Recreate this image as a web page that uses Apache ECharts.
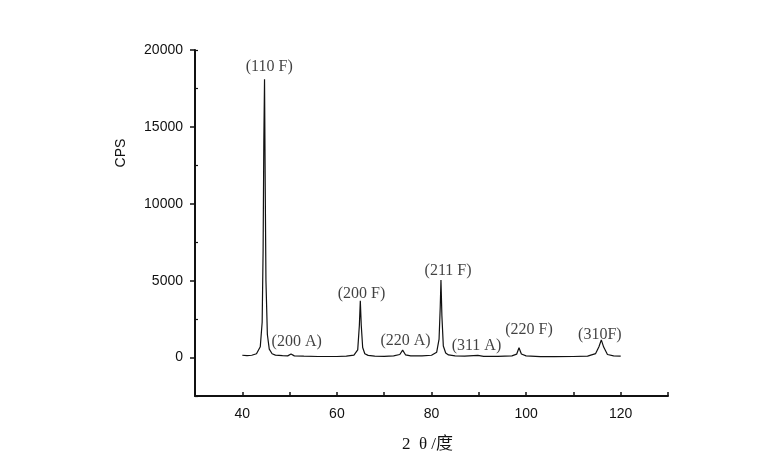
<!DOCTYPE html>
<html>
<head>
<meta charset="utf-8">
<script src="https://cdn.jsdelivr.net/npm/echarts@6/dist/echarts.min.js"></script>
<style>
  html, body { margin: 0; padding: 0; background: #fff; }
  #chart { width: 774px; height: 473px; }
</style>
</head>
<body>
<div id="chart"></div>
<script>
// XRD 衍射谱 2θ / CPS
var twoTheta = [40.0, 41.0, 42.0, 43.0, 43.8, 44.2, 44.4, 44.55, 44.7, 44.85, 45.0, 45.3, 45.7, 46.3, 47.0, 48.5, 49.6, 50.3, 51.0,
  53.0, 56.0, 60.0, 62.0, 63.6, 64.4, 64.75, 64.95, 65.15, 65.45, 65.9, 66.6, 68.0, 70.0, 72.0, 73.3, 73.9, 74.5,
  75.6, 78.0, 80.0, 81.1, 81.6, 81.85, 82.0, 82.2, 82.5, 83.0, 83.6, 85.0, 87.0, 89.8, 91.0, 94.0, 97.0, 98.0,
  98.5, 99.0, 100.0, 103.0, 106.0, 110.0, 113.0, 114.7, 115.4, 115.9, 116.4, 117.2, 118.5, 120.0];
var cps = [150, 120, 150, 250, 700, 2300, 7000, 14000, 18100, 11000, 5000, 1500, 550, 250, 160, 120, 110, 230, 110,
  90, 70, 70, 90, 160, 500, 2100, 3700, 2100, 650, 250, 140, 90, 80, 110, 200, 480, 180,
  110, 110, 150, 350, 1200, 3300, 5050, 2700, 750, 300, 170, 110, 90, 140, 80, 80, 110, 220,
  640, 230, 110, 60, 60, 70, 90, 260, 700, 1150, 680, 200, 110, 90];

// 峰标注
var peakNames = ['(110 F)', '(200 A)', '(200 F)', '(220 A)', '(211 F)', '(311 A)', '(220 F)', '(310F)'];
var peakLabelX = [45.7, 51.5, 65.2, 74.5, 83.5, 89.5, 100.6, 115.6];
var peakLabelY = [18920, 1020, 4170, 1060, 5640, 740, 1780, 1450];

var xTickLabels = [40, 60, 80, 100, 120];
var yTickLabels = [0, 5000, 10000, 15000, 20000];

var lineData = twoTheta.map(function (x, i) { return [x, cps[i]]; });
var labelData = peakNames.map(function (n, i) { return { name: n, value: [peakLabelX[i], peakLabelY[i]] }; });

var myChart = echarts.init(document.getElementById('chart'));
var option = {
  backgroundColor: '#fff',
  animation: false,
  grid: { left: 195, right: 106, top: 50, bottom: 77 },
  xAxis: {
    type: 'value',
    min: 30,
    max: 130,
    interval: 10,
    name: '2  θ /度',
    nameLocation: 'middle',
    nameGap: 40,
    nameTextStyle: { fontFamily: 'Liberation Serif, Noto Sans CJK SC', fontSize: 17, color: '#111', padding: [0, 8, 0, 0] },
    splitLine: { show: false },
    axisLine: { onZero: false, lineStyle: { color: '#111', width: 2 } },
    axisTick: { inside: true, length: 4, lineStyle: { color: '#111', width: 1.5 } },
    axisLabel: {
      margin: 11,
      fontFamily: 'Liberation Sans, Arial',
      fontSize: 14,
      color: '#111',
      hideOverlap: false,
      formatter: function (v) { return xTickLabels.indexOf(v) >= 0 ? String(v) : ''; }
    }
  },
  yAxis: [{
    type: 'value',
    min: -2500,
    max: 20000,
    splitLine: { show: false },
    axisLine: { onZero: false, lineStyle: { color: '#111', width: 2 } },
    axisTick: { inside: false, length: 5, customValues: yTickLabels, lineStyle: { color: '#111', width: 1.5 } },
    axisLabel: {
      margin: 12,
      fontFamily: 'Liberation Sans, Arial',
      fontSize: 14,
      color: '#111',
      customValues: yTickLabels,
      formatter: function (v) { return String(v); }
    }
  }, {
    // 内侧小刻度
    type: 'value',
    position: 'left',
    min: -2500,
    max: 20000,
    interval: 5000,
    splitLine: { show: false },
    axisLine: { show: false },
    axisTick: { inside: true, length: 3, lineStyle: { color: '#111', width: 1.2 } },
    axisLabel: { show: false }
  }],
  graphic: [{
    type: 'text',
    x: 121,
    y: 153,
    rotation: Math.PI / 2,
    style: {
      text: 'CPS',
      fontFamily: 'Liberation Sans, Arial',
      fontSize: 14,
      fill: '#111',
      align: 'center',
      verticalAlign: 'middle'
    }
  }],
  series: [{
    type: 'line',
    data: lineData,
    symbol: 'none',
    smooth: false,
    lineStyle: { color: '#111', width: 1.2 },
    z: 3
  }, {
    type: 'scatter',
    data: labelData,
    symbolSize: 0,
    silent: true,
    label: {
      show: true,
      position: 'inside',
      formatter: '{b}',
      fontFamily: 'Liberation Serif, Times New Roman',
      fontSize: 16,
      color: '#111'
    },
    z: 4
  }]
};
myChart.setOption(option);
window.onresize = function () {
  myChart.resize();
};
</script>
</body>
</html>
